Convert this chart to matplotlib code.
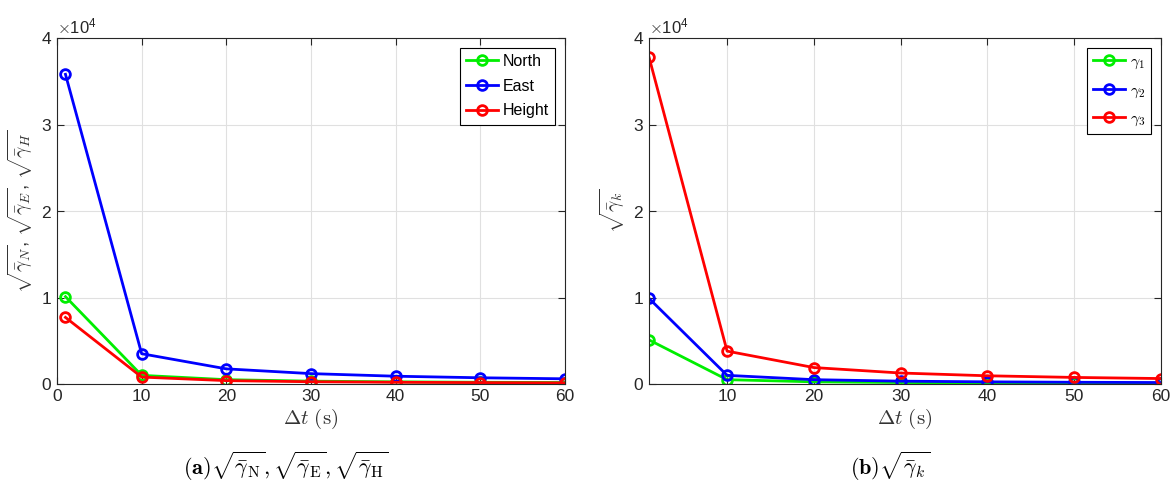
import matplotlib
matplotlib.use("Agg")
import matplotlib.pyplot as plt
from matplotlib.ticker import ScalarFormatter

plt.rcParams['font.family'] = ['Liberation Sans', 'DejaVu Sans']
plt.rcParams['mathtext.fontset'] = 'cm'

dt = [1, 10, 20, 30, 40, 50, 60]
north = [10100, 1000, 500, 330, 250, 200, 170]
east = [35800, 3500, 1750, 1200, 900, 720, 600]
height = [7700, 800, 390, 260, 200, 160, 130]

gamma1 = [5100, 500, 250, 170, 130, 100, 85]
gamma2 = [9900, 1000, 500, 330, 250, 200, 170]
gamma3 = [37800, 3800, 1900, 1270, 950, 760, 630]

W, H = 1174, 483
fig = plt.figure(figsize=(W/100, H/100), dpi=100)

def mkax(l, r, t, b):
    return fig.add_axes([l/W, 1-b/H, (r-l)/W, (b-t)/H])

axL = mkax(57, 565, 38, 384)
axR = mkax(649, 1161, 38, 384)

cols = ['#00ee00', '#0000ff', '#ff0000']

def style(ax, xlim, xticks):
    ax.set_xlim(*xlim)
    ax.set_ylim(0, 40000)
    ax.set_xticks(xticks)
    ax.set_yticks([0, 10000, 20000, 30000, 40000])
    fmt = ScalarFormatter(useMathText=True)
    fmt.set_powerlimits((0, 0))
    ax.yaxis.set_major_formatter(fmt)
    ax.yaxis.get_offset_text().set_fontsize(12)
    ax.yaxis.get_offset_text().set_color('#333333')
    ax.grid(True, color='#e0e0e0', linewidth=0.8)
    ax.set_axisbelow(True)
    ax.tick_params(direction='in', top=True, right=True, labelsize=12.5,
                   colors='#262626', length=5)
    for s in ax.spines.values():
        s.set_color('#262626')
        s.set_linewidth(0.8)
    ax.set_xlabel(r'$\Delta t\ \mathrm{(s)}$', fontsize=15, color='#333333', labelpad=2)

def mklegend(ax, fs, ls):
    leg = ax.legend(loc='upper right', fontsize=fs, fancybox=False, edgecolor='black',
                    handlelength=2.0, handletextpad=0.3, borderaxespad=0.6,
                    borderpad=0.4, labelspacing=ls, framealpha=1)
    leg.get_frame().set_linewidth(0.8)

for y, c, lab in zip([north, east, height], cols, ['North', 'East', 'Height']):
    axL.plot(dt, y, '-o', color=c, lw=2, ms=7, mfc='none', mew=2, label=lab)
style(axL, (0, 60), [0, 10, 20, 30, 40, 50, 60])
axL.set_ylabel(r'$\sqrt{\bar{\gamma}_N}$, $\sqrt{\bar{\gamma}_E}$, $\sqrt{\bar{\gamma}_H}$',
               fontsize=14, color='#333333', labelpad=4)
mklegend(axL, 11.5, 0.6)

for y, c, lab in zip([gamma1, gamma2, gamma3], cols,
                     [r'$\gamma_1$', r'$\gamma_2$', r'$\gamma_3$']):
    axR.plot(dt, y, '-o', color=c, lw=2, ms=7, mfc='none', mew=2, label=lab)
style(axR, (1, 60), [10, 20, 30, 40, 50, 60])
axR.set_ylabel(r'$\sqrt{\bar{\gamma}_k}$', fontsize=14, color='#333333', labelpad=4)
mklegend(axR, 11.5, 0.7)

fig.text(286/W, 1-466/H,
         r'$\mathbf{(a)}\sqrt{\bar{\gamma}_{\mathrm{N}}}, \sqrt{\bar{\gamma}_{\mathrm{E}}}, \sqrt{\bar{\gamma}_{\mathrm{H}}}$',
         ha='center', va='center', fontsize=16)
fig.text(890/W, 1-466/H, r'$\mathbf{(b)}\sqrt{\bar{\gamma}_k}$',
         ha='center', va='center', fontsize=16)

fig.savefig('out.png', dpi=100)
